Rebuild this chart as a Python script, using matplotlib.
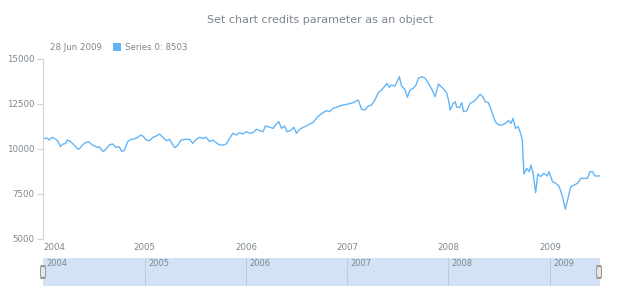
import matplotlib
matplotlib.use("Agg")
import matplotlib.pyplot as plt
import matplotlib.dates as mdates
import numpy as np
from matplotlib.patches import FancyBboxPatch, Rectangle

dates = [
    "2004-01-02","2004-01-17","2004-01-23","2004-02-03","2004-02-16","2004-02-25","2004-03-03","2004-03-11",
    "2004-03-23","2004-03-29","2004-04-10","2004-04-22","2004-05-07","2004-05-16","2004-05-28","2004-06-13",
    "2004-06-27","2004-07-15","2004-07-21","2004-08-05","2004-08-14","2004-08-26","2004-09-08","2004-09-20",
    "2004-10-01","2004-10-11","2004-10-20","2004-11-01","2004-11-13","2004-11-25","2004-12-07","2004-12-19",
    "2004-12-28","2005-01-07","2005-01-19","2005-01-31","2005-02-12","2005-02-24","2005-03-08","2005-03-20",
    "2005-04-01","2005-04-13","2005-04-21","2005-05-01","2005-05-13","2005-05-31","2005-06-12","2005-06-24",
    "2005-07-06","2005-07-18","2005-07-30","2005-08-11","2005-08-23","2005-09-04","2005-09-16","2005-09-28",
    "2005-10-12","2005-10-22","2005-11-01","2005-11-15","2005-11-27","2005-12-09","2005-12-21","2006-01-03",
    "2006-01-15","2006-01-27","2006-02-08","2006-02-20","2006-03-04","2006-03-12","2006-03-28","2006-04-09",
    "2006-04-21","2006-04-30","2006-05-09","2006-05-21","2006-05-29","2006-06-10","2006-06-23","2006-07-02",
    "2006-07-11","2006-07-26","2006-08-07","2006-08-19","2006-08-31","2006-09-12","2006-09-24","2006-10-06",
    "2006-10-18","2006-10-30","2006-11-11","2006-11-23","2006-12-05","2006-12-17","2007-01-05","2007-01-23",
    "2007-02-10","2007-02-22","2007-03-06","2007-03-18","2007-03-30","2007-04-11","2007-04-23","2007-05-05",
    "2007-05-17","2007-05-25","2007-06-02","2007-06-10","2007-06-22","2007-06-30","2007-07-08","2007-07-16",
    "2007-07-28","2007-08-06","2007-08-15","2007-08-27","2007-09-06","2007-09-15","2007-09-27","2007-10-09",
    "2007-10-21","2007-11-02","2007-11-14","2007-11-26","2007-12-08","2007-12-16","2007-12-26","2008-01-01",
    "2008-01-07","2008-01-17","2008-01-25","2008-01-31","2008-02-10","2008-02-18","2008-02-24","2008-03-07",
    "2008-03-19","2008-03-31","2008-04-12","2008-04-24","2008-05-04","2008-05-12","2008-05-24","2008-06-05",
    "2008-06-18","2008-06-30","2008-07-12","2008-07-24","2008-08-05","2008-08-14","2008-08-20","2008-08-30",
    "2008-09-08","2008-09-17","2008-09-23","2008-09-29","2008-10-09","2008-10-18","2008-10-24","2008-11-01",
    "2008-11-10","2008-11-18","2008-11-28","2008-12-10","2008-12-22","2008-12-28","2009-01-10","2009-01-22",
    "2009-02-03","2009-02-15","2009-02-25","2009-03-05","2009-03-17","2009-03-29","2009-04-10","2009-04-22",
    "2009-05-04","2009-05-16","2009-05-25","2009-06-03","2009-06-12","2009-06-28",
]
values = [
    10593,10593,10500,10650,10540,10407,10130,10260,
    10315,10500,10400,10222,9980,10090,10315,10407,
    10222,10090,10130,9852,9980,10222,10280,10090,
    10130,9870,9925,10407,10537,10556,10650,10780,
    10690,10500,10463,10650,10722,10833,10650,10463,
    10537,10222,10074,10222,10500,10537,10537,10315,
    10537,10650,10593,10650,10407,10500,10352,10222,
    10222,10280,10537,10870,10778,10907,10833,10963,
    10870,10907,11093,11019,10963,11278,11204,11148,
    11389,11518,11148,11278,10963,11019,11204,10870,
    11055,11204,11278,11389,11463,11704,11889,12019,
    12130,12074,12259,12315,12389,12444,12500,12574,
    12722,12204,12167,12389,12444,12722,13130,13278,
    13500,13648,13426,13556,13500,13741,14018,13500,
    13315,12870,13278,13370,13556,13926,14018,13926,
    13648,13315,12907,13611,13426,13315,13093,12722,
    12167,12500,12630,12315,12315,12574,12074,12130,
    12537,12630,12815,13037,12907,12630,12574,12074,
    11518,11333,11333,11426,11574,11426,11704,11148,
    11241,10870,10500,8611,8926,8741,9111,8648,
    7574,8611,8463,8648,8500,8741,8185,8093,
    7907,7352,6648,7167,7907,8000,8093,8370,
    8370,8370,8741,8741,8500,8503,
]
year_labels = ["2004", "2005", "2006", "2007", "2008", "2009"]
y_ticks = [5000, 7500, 10000, 12500, 15000]

title = "Set chart credits parameter as an object"
legend_date = "28 Jun 2009"
series_name = "Series 0"

line_color = "#64b5f6"
text_color = "#7c868e"
axis_color = "#cfd3d6"

x = np.array(dates, dtype="datetime64[D]")
y = np.array(values)

fig = plt.figure(figsize=(6.2, 3.0), dpi=100)
W, H = 620, 300

def rect(l, t, r, b):
    return [l / W, 1 - b / H, (r - l) / W, (b - t) / H]

ax = fig.add_axes(rect(43, 59, 600, 239))
ax.plot(x, y, color=line_color, lw=1.0)
ax.set_ylim(5000, 15000)
ax.set_xlim(np.datetime64("2004-01-01"), np.datetime64("2009-06-30"))
ax.set_yticks(y_ticks)
ax.set_yticklabels([str(v) for v in y_ticks])
for s in ["top", "right", "bottom"]:
    ax.spines[s].set_visible(False)
ax.spines["left"].set_color(axis_color)
ax.spines["left"].set_linewidth(0.8)
ax.tick_params(axis="y", colors=axis_color, labelcolor=text_color, labelsize=6.2, length=4, width=0.8, pad=2)
xt = [np.datetime64(f"{yl}-01-01") for yl in year_labels]
ax.set_xticks(xt)
ax.set_xticklabels(year_labels)
ax.tick_params(axis="x", length=0, labelcolor=text_color, labelsize=6.2, pad=3)
lbls = ax.get_xticklabels()
lbls[0].set_horizontalalignment("left")

fig.text(0.517, 1 - 20 / H, title, ha="center", va="center", color=text_color, fontsize=8.0)
fig.text(50 / W, 1 - 47 / H, legend_date, ha="left", va="center", color=text_color, fontsize=6.2)
fig.patches.append(Rectangle((113 / W, 1 - 51 / H), 8 / W, 8 / H, transform=fig.transFigure,
                             facecolor=line_color, edgecolor="none"))
fig.text(125 / W, 1 - 47 / H, f"{series_name}: {values[-1]}", ha="left", va="center",
         color=text_color, fontsize=6.2)

# scroller
sc = fig.add_axes(rect(43, 258, 600, 286))
sc.set_xlim(ax.get_xlim())
sc.set_ylim(0, 1)
sc.axvspan(ax.get_xlim()[0], ax.get_xlim()[1], color="#d3e3f5", zorder=0)
for s in sc.spines.values():
    s.set_visible(False)
sc.set_xticks([])
sc.set_yticks([])
for i, t in enumerate(xt):
    tn = mdates.date2num(t)
    if i > 0:
        sc.axvline(tn, color="#bfcbd6", lw=0.7)
    sc.text(tn + 12, 0.82, year_labels[i], ha="left", va="center", color=text_color, fontsize=6.0)

for hx in [43, 599]:
    fig.patches.append(FancyBboxPatch(((hx - 2.5) / W, 1 - 278 / H), 5 / W, 12 / H,
                                      boxstyle="round,pad=0,rounding_size=0.008",
                                      transform=fig.transFigure, facecolor="#e8e8e8",
                                      edgecolor="#9a9a9a", lw=0.8, zorder=5))

fig.savefig("out.png", dpi=100)
